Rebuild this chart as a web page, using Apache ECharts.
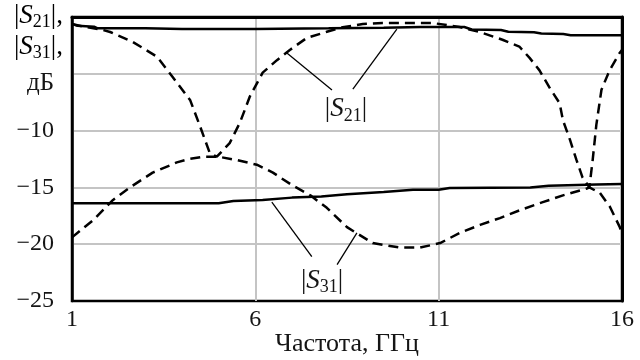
<!DOCTYPE html>
<html>
<head>
<meta charset="utf-8">
<script src="https://cdn.jsdelivr.net/npm/echarts@6/dist/echarts.min.js"></script>
<style>
html,body{margin:0;padding:0;background:#fff;}
#c{width:640px;height:360px;}
</style>
</head>
<body>
<div id="c"></div>
<script>
// ---- data (GHz, dB) ----
var xTicks = [1, 6, 11, 16];
var yTicks = [-25, -20, -15, -10];

var s21Solid = [[1,-0.6],[1.15,-0.78],[1.6,-0.85],[1.7,-1.0],[3,-1.0],[4,-1.05],[6,-1.05],[8,-1.0],[9.5,-0.95],[10.5,-0.88],[11.7,-0.88],[11.9,-1.1],[12.7,-1.15],[12.9,-1.3],[13.6,-1.35],[13.8,-1.45],[14.4,-1.5],[14.6,-1.6],[16,-1.6]];

var s21Dashed = [[1,-0.62],[1.4,-0.9],[1.8,-1.1],[2.04,-1.32],[2.66,-2.2],[3.32,-3.5],[3.75,-5.3],[4.22,-7.3],[4.49,-9.6],[4.76,-12.0],[4.95,-12.3],[5.3,-11.1],[5.58,-9.3],[5.85,-7.0],[6.2,-4.9],[6.59,-3.8],[6.94,-2.9],[7.4,-1.85],[7.95,-1.3],[8.38,-0.9],[8.93,-0.62],[9.47,-0.53],[10.84,-0.53],[11.57,-0.88],[12.12,-1.32],[12.74,-2.0],[13.2,-2.6],[13.48,-3.6],[13.75,-4.7],[14.02,-6.2],[14.3,-7.6],[14.39,-9.1],[14.58,-10.8],[14.76,-12.6],[14.92,-14.1],[15.11,-15.0],[15.2,-12.6],[15.3,-9.5],[15.44,-6.4],[15.66,-4.7],[15.93,-3.2],[16,-2.9]];

var s31Solid = [[1,-16.4],[5,-16.4],[5.4,-16.2],[6.2,-16.1],[7.0,-15.9],[7.8,-15.8],[8.5,-15.6],[9.5,-15.4],[10.3,-15.2],[11,-15.2],[11.3,-15.05],[13.5,-15.0],[14.0,-14.85],[15.3,-14.75],[16,-14.7]];

var s31Dashed = [[1,-19.4],[1.57,-17.9],[2.12,-16.1],[2.58,-15.0],[3.2,-13.7],[3.86,-12.8],[4.2,-12.5],[4.6,-12.3],[5.0,-12.3],[5.5,-12.6],[6.04,-13.0],[6.48,-13.7],[7.0,-14.8],[7.5,-15.7],[7.95,-16.8],[8.5,-18.5],[9.2,-19.9],[9.94,-20.3],[10.49,-20.3],[11.04,-19.9],[11.58,-19.0],[12.13,-18.3],[12.67,-17.7],[13.22,-17.0],[13.84,-16.3],[14.39,-15.7],[15.04,-15.1],[15.11,-15.0],[15.4,-15.5],[15.67,-16.7],[15.94,-18.5],[16,-19.2]];

// annotation leader lines and label anchors (data coords)
var s21Leaders = [[[6.86,-3.17],[8.09,-6.43]], [[9.86,-1.06],[8.66,-6.34]]];
var s31Leaders = [[[6.45,-16.3],[7.54,-21.1]], [[8.77,-19.0],[8.23,-21.8]]];
var s21LabelAt = [8.47, -8.1];
var s31LabelAt = [7.82, -23.2];

var FONT = 'Liberation Serif, Times New Roman, serif';
var TXT = '#151515';

var rich = {
  n: {fontFamily: FONT, fontSize: 27, color: TXT},
  s: {fontFamily: FONT, fontSize: 27, fontStyle: 'italic', color: TXT},
  sub: {fontFamily: FONT, fontSize: 18, color: TXT, padding: [14, 0, 0, 0]}
};

function leaderData(arr) {
  return arr.map(function (p) { return [{coord: p[0]}, {coord: p[1]}]; });
}

var chart = echarts.init(document.getElementById('c'), null, {renderer: 'canvas'});
var lineW = 2.5;
chart.setOption({
  animation: false,
  backgroundColor: '#fff',
  grid: {left: 72, right: 18, top: 17, bottom: 59, show: true, borderColor: '#000', borderWidth: 2.5,
    containLabel: false, outerBoundsMode: 'none'},
  xAxis: {
    type: 'value', min: 1, max: 16, interval: 5,
    name: 'Частота, ГГц', nameLocation: 'middle', nameGap: 30, nameMoveOverlap: false,
    nameTextStyle: {fontFamily: FONT, fontSize: 26, color: TXT},
    axisLine: {show: true, lineStyle: {color: '#000', width: 3}},
    axisTick: {show: false},
    axisLabel: {fontFamily: FONT, fontSize: 24, color: TXT, margin: 7,
      formatter: function (v) { return xTicks.indexOf(v) >= 0 ? String(v) : ''; }},
    splitLine: {show: true, showMinLine: false, showMaxLine: false, lineStyle: {color: '#c4c4c4', width: 2}}
  },
  yAxis: [{
    type: 'value', min: -25, max: 0, interval: 5,
    axisLine: {show: true, lineStyle: {color: '#000', width: 2.5}},
    axisTick: {show: false},
    axisLabel: {fontFamily: FONT, fontSize: 24, color: TXT, margin: 18,
      formatter: function (v) { return yTicks.indexOf(v) >= 0 ? '\u2212' + Math.abs(v) : ''; }},
    splitLine: {show: true, showMinLine: false, showMaxLine: false, lineStyle: {color: '#c4c4c4', width: 2}}
  }, {
    type: 'value', min: -25, max: 0, interval: 5, position: 'right',
    axisLine: {show: true, lineStyle: {color: '#000', width: 3}},
    axisTick: {show: false}, axisLabel: {show: false}, splitLine: {show: false}
  }],
  graphic: [
    {type: 'text', right: 640 - 63, top: 2, style: {text: '{n||}{s|S}{sub|21}{n||,}', rich: rich, align: 'right'}},
    {type: 'text', right: 640 - 63, top: 33, style: {text: '{n||}{s|S}{sub|31}{n||,}', rich: rich, align: 'right'}},
    {type: 'text', right: 640 - 54, top: 71, style: {text: 'дБ', font: '25px ' + FONT, fill: TXT}}
  ],
  series: [
    {type: 'line', name: 'S21', data: s21Solid, showSymbol: false, lineStyle: {color: '#000', width: lineW}, z: 5,
      markLine: {silent: true, symbol: ['none', 'none'], label: {show: false}, lineStyle: {color: '#000', width: 1.3, type: 'solid'}, data: leaderData(s21Leaders)},
      markPoint: {symbol: 'rect', symbolSize: 1, itemStyle: {color: 'rgba(0,0,0,0)'},
        label: {show: true, position: 'inside', formatter: '{n||}{s|S}{sub|21}{n||}', rich: rich},
        data: [{coord: s21LabelAt}]}
    },
    {type: 'line', name: 'S21d', data: s21Dashed, showSymbol: false, lineStyle: {color: '#000', width: lineW, type: [10, 6]}, z: 5},
    {type: 'line', name: 'S31', data: s31Solid, showSymbol: false, lineStyle: {color: '#000', width: lineW}, z: 5,
      markLine: {silent: true, symbol: ['none', 'none'], label: {show: false}, lineStyle: {color: '#000', width: 1.3, type: 'solid'}, data: leaderData(s31Leaders)},
      markPoint: {symbol: 'rect', symbolSize: 1, itemStyle: {color: 'rgba(0,0,0,0)'},
        label: {show: true, position: 'inside', formatter: '{n||}{s|S}{sub|31}{n||}', rich: rich},
        data: [{coord: s31LabelAt}]}
    },
    {type: 'line', name: 'S31d', data: s31Dashed, showSymbol: false, lineStyle: {color: '#000', width: lineW, type: [10, 6]}, z: 5}
  ]
});
</script>
</body>
</html>
